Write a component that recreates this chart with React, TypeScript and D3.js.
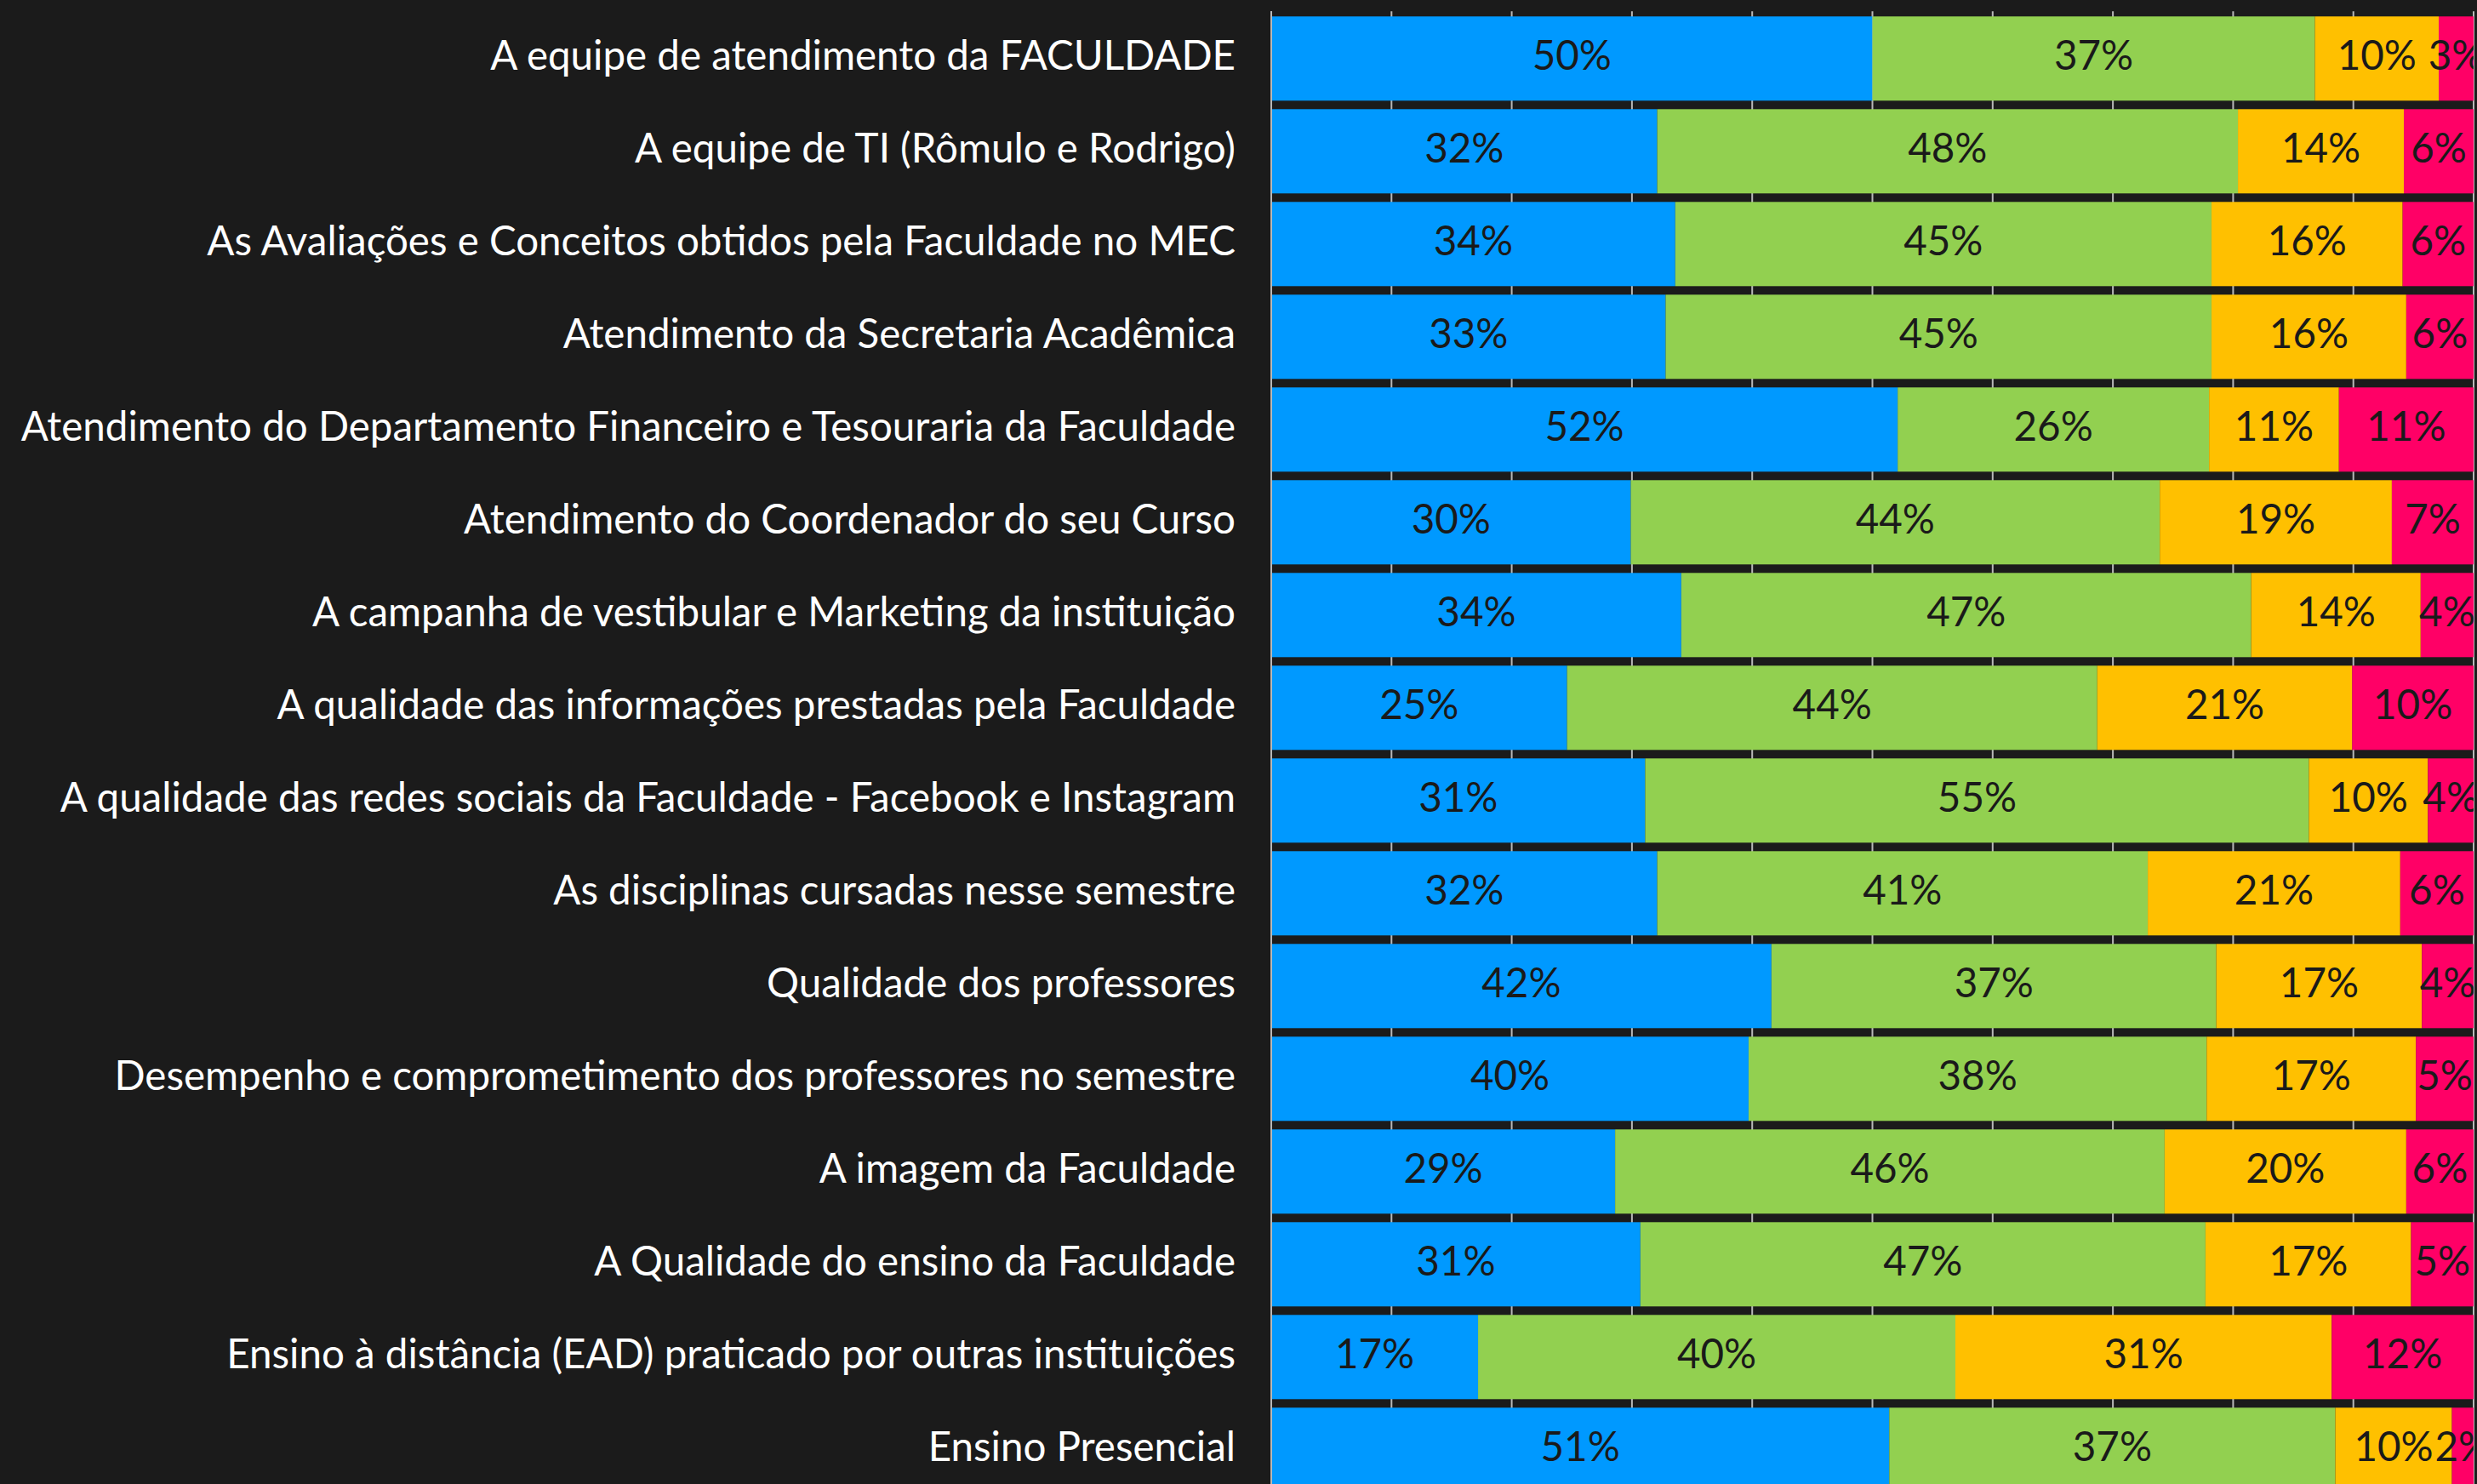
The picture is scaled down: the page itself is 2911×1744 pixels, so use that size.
import React from "react";
import * as d3 from "d3";

const categories: string[] = [
  "A equipe de atendimento da FACULDADE",
  "A equipe de TI (Rômulo e Rodrigo)",
  "As Avaliações e Conceitos obtidos pela Faculdade no MEC",
  "Atendimento da Secretaria Acadêmica",
  "Atendimento do Departamento Financeiro e Tesouraria da Faculdade",
  "Atendimento do Coordenador do seu Curso",
  "A campanha de vestibular e Marketing da instituição",
  "A qualidade das informações prestadas pela Faculdade",
  "A qualidade das redes sociais da Faculdade - Facebook e Instagram",
  "As disciplinas cursadas nesse semestre",
  "Qualidade dos professores",
  "Desempenho e comprometimento dos professores no semestre",
  "A imagem da Faculdade",
  "A Qualidade do ensino da Faculdade",
  "Ensino à distância (EAD) praticado por outras instituições",
  "Ensino Presencial",
];

// percentages per rating level
const otimo: number[] = [50.0, 32.1, 33.6, 32.8, 52.1, 29.9, 34.1, 24.6, 31.1, 32.1, 41.6, 39.7, 28.6, 30.7, 17.2, 51.4];
const bom: number[] = [36.8, 48.3, 44.6, 45.4, 25.9, 44.0, 47.4, 44.1, 55.2, 40.8, 37.0, 38.1, 45.7, 47.0, 39.7, 37.1];
const regular: number[] = [10.3, 13.8, 15.9, 16.2, 10.8, 19.3, 14.1, 21.2, 9.9, 21.0, 17.1, 17.4, 20.1, 17.1, 31.3, 9.7];
const ruim: number[] = [2.9, 5.8, 5.9, 5.6, 11.2, 6.8, 4.4, 10.1, 3.8, 6.1, 4.3, 4.8, 5.6, 5.2, 11.8, 1.8];

const seriesKeys = ["otimo", "bom", "regular", "ruim"];
const seriesColors = ["#0099ff", "#92d050", "#ffc000", "#ff0066"];
const xTicks: number[] = [0, 10, 20, 30, 40, 50, 60, 70, 80, 90, 100];

const W = 2911;
const H = 1744;
const BG = "#1b1b1b";
const FONT = "Lato, 'Open Sans', sans-serif";

export default function App() {
  const left = 1494;
  const right = 2907;
  const top = 14.3;
  const step = 109;

  const rows = categories.map((c, i) => ({
    cat: c,
    otimo: otimo[i],
    bom: bom[i],
    regular: regular[i],
    ruim: ruim[i],
  }));
  const stacked = d3.stack<any>().keys(seriesKeys)(rows);

  const x = d3.scaleLinear().domain([0, 100]).range([left, right]);
  const y = d3
    .scaleBand<string>()
    .domain(categories)
    .range([top, top + step * categories.length])
    .paddingInner(10 / 109)
    .paddingOuter(5 / 109);

  const fmt = (v: number) => `${Math.round(v)}%`;
  const fontSize = 47.5;

  return (
    <svg
      width={W}
      height={H}
      style={{ position: "absolute", left: 0, top: 0, display: "block", background: BG }}
    >
      <defs>
        <clipPath id="plotClip">
          <rect x={left} y={0} width={right - left} height={H} />
        </clipPath>
      </defs>
      <rect x={0} y={0} width={W} height={H} fill={BG} />
      {/* gridlines */}
      <g>
        {xTicks.map((t) => (
          <line
            key={t}
            x1={x(t)}
            x2={x(t)}
            y1={top - 1}
            y2={H}
            stroke="#b8b8b8"
            strokeWidth={2}
          />
        ))}
      </g>
      {/* bars */}
      <g>
        {stacked.map((s, si) => (
          <g key={s.key} fill={seriesColors[si]}>
            {s.map((d: any, i: number) => (
              <rect
                key={i}
                x={x(d[0])}
                y={y(categories[i])}
                width={x(d[1]) - x(d[0])}
                height={y.bandwidth()}
              />
            ))}
          </g>
        ))}
      </g>
      {/* value labels */}
      <g clipPath="url(#plotClip)" fontFamily={FONT} fontSize={fontSize} fill="#1a1a1a" textAnchor="middle">
        {stacked.map((s, si) =>
          s.map((d: any, i: number) => (
            <text
              key={`${si}-${i}`}
              x={(x(d[0]) + x(d[1])) / 2}
              y={(y(categories[i]) as number) + y.bandwidth() / 2}
              dy="0.28em"
            >
              {fmt(d[1] - d[0])}
            </text>
          ))
        )}
      </g>
      {/* axis line */}
      <line x1={left} x2={left} y1={top - 1} y2={H} stroke="#b8b8b8" strokeWidth={2} />
      {/* category labels */}
      <g fontFamily={FONT} fontSize={fontSize} fill="#ffffff" textAnchor="end">
        {categories.map((c) => (
          <text key={c} x={left - 42} y={(y(c) as number) + y.bandwidth() / 2} dy="0.28em">
            {c}
          </text>
        ))}
      </g>
    </svg>
  );
}
